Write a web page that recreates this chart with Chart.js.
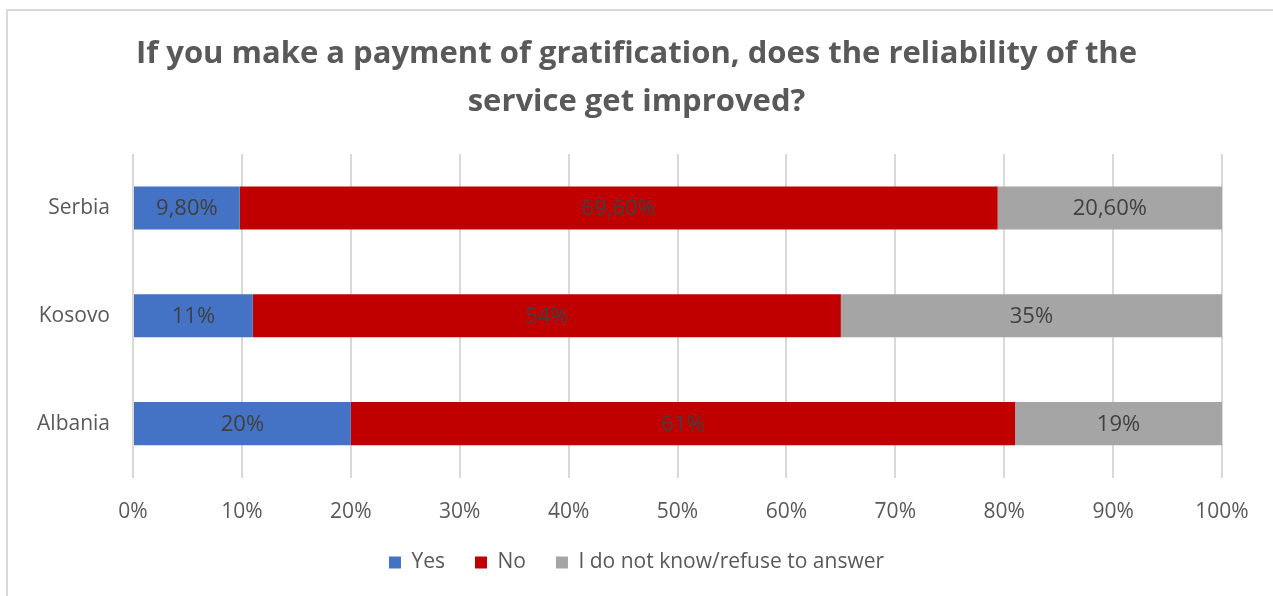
<!DOCTYPE html>
<html>
<head>
<meta charset="utf-8">
<script src="https://cdn.jsdelivr.net/npm/chart.js@4"></script>
<style>
  html, body { margin: 0; padding: 0; background: #fff; overflow: hidden; }
  #wrap { position: relative; width: 1273px; height: 596px; }
  #frame { position: absolute; left: 6px; top: 9px; width: 1320px; height: 700px;
           border: 2px solid #d9d9d9; pointer-events: none; }
</style>
</head>
<body>
<div id="wrap">
  <canvas id="chart"></canvas>
  <div id="frame"></div>
</div>
<script>
const countries = ['Serbia', 'Kosovo', 'Albania'];
const yes = [9.8, 11, 20];
const no = [69.6, 54, 61];
const dontKnow = [20.6, 35, 19];
const xTicks = [0, 10, 20, 30, 40, 50, 60, 70, 80, 90, 100];

const FONT = '"Open Sans", sans-serif';
const TEXT = '#595959';

// 9.8 -> "9,80%", 11 -> "11%"
function pct(v) {
    return Number.isInteger(v) ? v + '%' : v.toFixed(2).replace('.', ',') + '%';
}

// writes the value in the middle of every bar segment
const segmentLabels = {
    id: 'segmentLabels',
    afterDatasetsDraw(chart) {
        const ctx = chart.ctx;
        ctx.save();
        ctx.font = '22px ' + FONT;
        ctx.fillStyle = '#404040';
        ctx.textAlign = 'center';
        ctx.textBaseline = 'middle';
        chart.data.datasets.forEach((ds, i) => {
            chart.getDatasetMeta(i).data.forEach((bar, j) => {
                const cx = (bar.x + bar.base) / 2;
                ctx.fillText(pct(ds.data[j]), cx, bar.y + 1);
            });
        });
        ctx.restore();
    }
};

new Chart(document.getElementById('chart'), {
    type: 'bar',
    data: {
        labels: countries,
        datasets: [
            { label: 'Yes', data: yes, backgroundColor: '#4472C4' },
            { label: 'No', data: no, backgroundColor: '#C00000' },
            { label: 'I do not know/refuse to answer', data: dontKnow, backgroundColor: '#A5A5A5' }
        ]
    },
    options: {
        indexAxis: 'y',
        responsive: true,
        maintainAspectRatio: false,
        animation: false,
        layout: { padding: { left: 0, right: 0, top: 0, bottom: 13 } },
        datasets: { bar: { barPercentage: 0.4, categoryPercentage: 1 } },
        plugins: {
            title: {
                display: true,
                text: ['If you make a payment of gratification, does the reliability of the',
                       'service get improved?'],
                color: TEXT,
                font: { family: FONT, size: 31, weight: 'bold', lineHeight: 1.55 },
                padding: { top: 30, bottom: 28 }
            },
            legend: {
                position: 'bottom',
                labels: {
                    color: TEXT,
                    font: { family: FONT, size: 21 },
                    boxWidth: 12,
                    boxHeight: 12,
                    padding: 30
                }
            },
            tooltip: { enabled: false }
        },
        scales: {
            x: {
                stacked: true,
                min: 0,
                max: 100,
                afterBuildTicks: axis => { axis.ticks = xTicks.map(v => ({ value: v })); },
                afterFit: axis => { axis.height = 44.5; },
                grid: { color: '#d9d9d9', lineWidth: 2, drawTicks: false },
                border: { display: false },
                ticks: {
                    color: TEXT,
                    font: { family: FONT, size: 21 },
                    padding: 22,
                    callback: v => v + '%'
                }
            },
            y: {
                stacked: true,
                afterFit: axis => { axis.width = 133; },
                grid: { display: false, drawTicks: false },
                border: { display: false },
                ticks: {
                    color: TEXT,
                    font: { family: FONT, size: 21 },
                    padding: 23
                }
            },
            // empty right-hand gutter so title and legend center on the full width
            gutter: {
                type: 'category',
                axis: 'y',
                position: 'right',
                labels: [''],
                afterFit: axis => { axis.width = 51; },
                grid: { display: false, drawTicks: false },
                border: { display: false },
                ticks: { display: false }
            }
        }
    },
    plugins: [segmentLabels]
});
</script>
</body>
</html>
